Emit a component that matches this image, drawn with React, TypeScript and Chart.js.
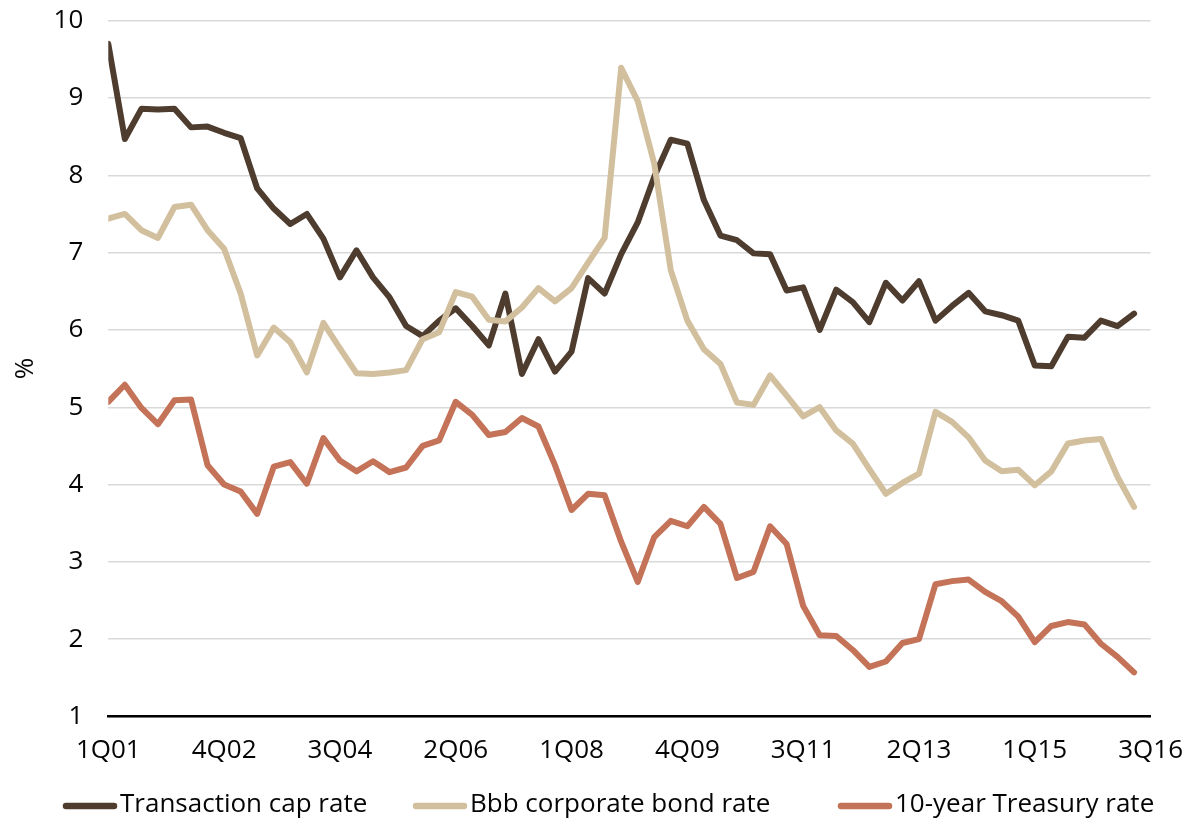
import React, { useEffect, useRef } from "react";
import { Chart, registerables } from "chart.js";

Chart.register(...registerables);

// Quarterly observations, 1Q01 onward
const quarters = [
  "1Q01", "2Q01", "3Q01", "4Q01", "1Q02", "2Q02", "3Q02", "4Q02",
  "1Q03", "2Q03", "3Q03", "4Q03", "1Q04", "2Q04", "3Q04", "4Q04",
  "1Q05", "2Q05", "3Q05", "4Q05", "1Q06", "2Q06", "3Q06", "4Q06",
  "1Q07", "2Q07", "3Q07", "4Q07", "1Q08", "2Q08", "3Q08", "4Q08",
  "1Q09", "2Q09", "3Q09", "4Q09", "1Q10", "2Q10", "3Q10", "4Q10",
  "1Q11", "2Q11", "3Q11", "4Q11", "1Q12", "2Q12", "3Q12", "4Q12",
  "1Q13", "2Q13", "3Q13", "4Q13", "1Q14", "2Q14", "3Q14", "4Q14",
  "1Q15", "2Q15", "3Q15", "4Q15", "1Q16", "2Q16", "3Q16",
];

// Labels shown along the horizontal axis, one every seven quarters
const tickLabels = ["1Q01", "4Q02", "3Q04", "2Q06", "1Q08", "4Q09", "3Q11", "2Q13", "1Q15", "3Q16"];
const tickStep = 7;

const capRate = [
  9.70, 8.47, 8.86, 8.85, 8.86, 8.62, 8.63, 8.55, 8.48, 7.83,
  7.57, 7.37, 7.50, 7.18, 6.68, 7.03, 6.68, 6.42, 6.05, 5.92,
  6.12, 6.28, 6.05, 5.80, 6.47, 5.43, 5.88, 5.46, 5.72, 6.67,
  6.47, 6.98, 7.39, 7.98, 8.46, 8.41, 7.68, 7.22, 7.16, 6.99,
  6.98, 6.51, 6.55, 6.00, 6.52, 6.36, 6.10, 6.61, 6.38, 6.63,
  6.12, 6.31, 6.48, 6.24, 6.19, 6.12, 5.54, 5.53, 5.91, 5.90,
  6.12, 6.05, 6.21,
];

const bbbRate = [
  7.44, 7.50, 7.29, 7.19, 7.59, 7.62, 7.29, 7.05, 6.47, 5.67,
  6.03, 5.84, 5.45, 6.09, 5.76, 5.44, 5.43, 5.45, 5.48, 5.88,
  5.97, 6.49, 6.43, 6.13, 6.11, 6.29, 6.54, 6.37, 6.54, 6.87,
  7.19, 9.39, 8.96, 8.15, 6.77, 6.12, 5.75, 5.56, 5.06, 5.03,
  5.41, 5.15, 4.88, 5.00, 4.70, 4.53, 4.20, 3.88, 4.02, 4.14,
  4.94, 4.81, 4.61, 4.31, 4.17, 4.19, 3.99, 4.17, 4.53, 4.57,
  4.59, 4.10, 3.71,
];

const treasuryRate = [
  5.07, 5.29, 4.99, 4.78, 5.09, 5.10, 4.25, 4.00, 3.91, 3.62,
  4.23, 4.29, 4.01, 4.60, 4.31, 4.17, 4.30, 4.16, 4.22, 4.50,
  4.57, 5.07, 4.90, 4.64, 4.68, 4.86, 4.75, 4.25, 3.67, 3.88,
  3.86, 3.26, 2.74, 3.32, 3.53, 3.46, 3.71, 3.49, 2.79, 2.87,
  3.46, 3.23, 2.43, 2.05, 2.04, 1.86, 1.64, 1.71, 1.95, 2.00,
  2.71, 2.75, 2.77, 2.61, 2.49, 2.29, 1.96, 2.17, 2.22, 2.19,
  1.94, 1.77, 1.57,
];

const seriesNames = ["Transaction cap rate", "Bbb corporate bond rate", "10-year Treasury rate"];
const seriesColors = ["#4e3c2e", "#d2bf9d", "#c47358"];

const yMin = 1;
const yMax = 10;

const FONT_FAMILY = '"Open Sans", "Noto Sans", "DejaVu Sans", sans-serif';
const FONT_SIZE = 26;
const TEXT_COLOR = "#050505";

// Line swatch + label legend under the plot
const swatchLegend = {
  id: "swatchLegend",
  afterDraw(chart: any) {
    const { ctx } = chart;
    const sets = chart.data.datasets;
    const itemStarts = [63, 413, 838];
    const swatch = 54;
    const textGap = 3;
    const y = 805;
    ctx.save();
    ctx.font = `${FONT_SIZE}px ${FONT_FAMILY}`;
    sets.forEach((ds: any, i: number) => {
      const x = itemStarts[i];
      ctx.strokeStyle = ds.borderColor;
      ctx.lineWidth = 6.5;
      ctx.lineCap = "round";
      ctx.beginPath();
      ctx.moveTo(x + 3, y + 1);
      ctx.lineTo(x + swatch - 3, y + 1);
      ctx.stroke();
      ctx.fillStyle = TEXT_COLOR;
      ctx.textAlign = "left";
      ctx.textBaseline = "middle";
      ctx.fillText(ds.label, x + swatch + textGap, y);
    });
    ctx.restore();
  },
};

const toPoints = (values: number[]) => values.map((v, i) => ({ x: i, y: v }));

export default function App() {
  const canvasRef = useRef<HTMLCanvasElement | null>(null);

  useEffect(() => {
    if (!canvasRef.current) return;
    const series = [capRate, bbbRate, treasuryRate];
    const chart = new Chart(canvasRef.current, {
      type: "line",
      data: {
        labels: quarters,
        datasets: series.map((values, i) => ({
          label: seriesNames[i],
          data: toPoints(values),
          borderColor: seriesColors[i],
          backgroundColor: seriesColors[i],
          borderWidth: 6,
          pointRadius: 0,
          pointHoverRadius: 0,
          tension: 0,
          fill: false,
          borderJoinStyle: "round" as const,
          borderCapStyle: "round" as const,
          order: series.length - i,
        })),
      },
      options: {
        responsive: false,
        animation: false,
        layout: { padding: { left: 0, right: 51, top: 20.7, bottom: 40 } },
        plugins: {
          legend: { display: false },
          tooltip: {
            callbacks: {
              title: (items: any[]) => quarters[items[0].parsed.x] ?? "",
            },
          },
        },
        scales: {
          x: {
            type: "linear",
            min: 0,
            max: (tickLabels.length - 1) * tickStep,
            grid: { display: false, drawTicks: false },
            border: { display: true, color: "#000000", width: 2.5 },
            ticks: {
              stepSize: tickStep,
              autoSkip: false,
              maxRotation: 0,
              padding: 19,
              color: TEXT_COLOR,
              font: { family: FONT_FAMILY, size: FONT_SIZE },
              callback: (value: any) => tickLabels[Math.round(Number(value) / tickStep)] ?? "",
            },
            afterFit: (scale: any) => {
              scale.height = 63.6;
            },
          },
          y: {
            min: yMin,
            max: yMax,
            grid: {
              color: "#d9d9d9",
              lineWidth: 1.4,
              drawTicks: true,
              tickLength: 25,
              tickColor: "rgba(0,0,0,0)",
            },
            border: { display: false },
            ticks: {
              stepSize: 1,
              padding: 0,
              color: TEXT_COLOR,
              font: { family: FONT_FAMILY, size: FONT_SIZE },
            },
            title: {
              display: true,
              text: "%",
              color: TEXT_COLOR,
              font: { family: FONT_FAMILY, size: FONT_SIZE },
              padding: { top: 10, bottom: 0 },
            },
            afterFit: (scale: any) => {
              scale.width = 108.3;
            },
          },
        },
      },
      plugins: [swatchLegend],
    });
    return () => chart.destroy();
  }, []);

  return (
    <div style={{ position: "fixed", left: 0, top: 0, width: 1202, height: 820, background: "#ffffff" }}>
      <canvas ref={canvasRef} width={1202} height={820} />
    </div>
  );
}
